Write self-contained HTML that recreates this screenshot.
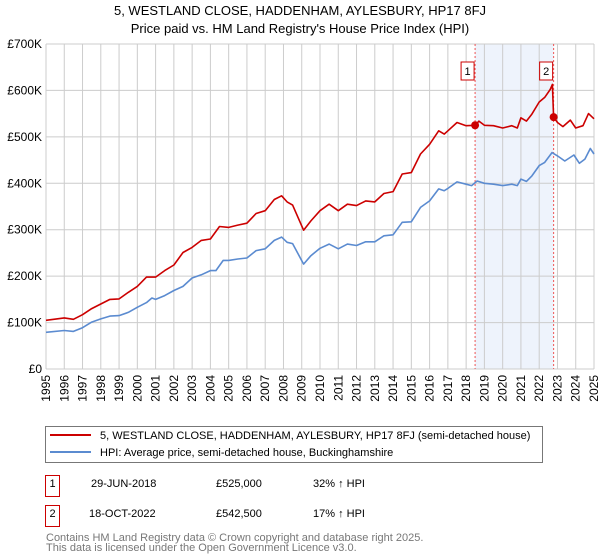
<!DOCTYPE html>
<html><head><meta charset="utf-8"><style>
body{margin:0;background:#fff;font-family:"Liberation Sans","DejaVu Sans",sans-serif;}
#wrap{position:relative;width:600px;height:560px;overflow:hidden;}
</style></head><body>
<div id="wrap">
<svg id="svg" width="600" height="560" xmlns="http://www.w3.org/2000/svg" style="position:absolute;left:0;top:0">
<text x="300" y="15" text-anchor="middle" font-size="13" fill="#000">5, WESTLAND CLOSE, HADDENHAM, AYLESBURY, HP17 8FJ</text>
<text x="300" y="33" text-anchor="middle" font-size="13" fill="#000">Price paid vs. HM Land Registry's House Price Index (HPI)</text>
<g id="grid"></g><g id="marks"></g><g id="axes"></g>
<rect x="45.5" y="426.5" width="497" height="36" fill="#fff" stroke="#777"/>
<line x1="50" y1="435" x2="91" y2="435" stroke="#cc0000" stroke-width="2"/>
<text x="100" y="439" font-size="11">5, WESTLAND CLOSE, HADDENHAM, AYLESBURY, HP17 8FJ (semi-detached house)</text>
<line x1="50" y1="452" x2="91" y2="452" stroke="#5b8bd0" stroke-width="2"/>
<text x="100" y="456" font-size="11">HPI: Average price, semi-detached house, Buckinghamshire</text>
<rect x="45.5" y="475.5" width="14" height="21" fill="#fff" stroke="#cc0000"/>
<text x="52.5" y="487" font-size="11" text-anchor="middle">1</text>
<text x="91" y="487" font-size="11">29-JUN-2018</text>
<text x="216" y="487" font-size="11">£525,000</text>
<text x="313" y="487" font-size="11">32% ↑ HPI</text>
<rect x="45.5" y="505.5" width="14" height="21" fill="#fff" stroke="#cc0000"/>
<text x="52.5" y="517" font-size="11" text-anchor="middle">2</text>
<text x="89" y="517" font-size="11">18-OCT-2022</text>
<text x="216" y="517" font-size="11">£542,500</text>
<text x="313" y="517" font-size="11">17% ↑ HPI</text>
<text x="46" y="541" font-size="11" fill="#777">Contains HM Land Registry data © Crown copyright and database right 2025.</text>
<text x="46" y="551" font-size="11" fill="#777">This data is licensed under the Open Government Licence v3.0.</text>
</svg>
</div>
<script>
const hpiYears=[1995,1996,1996.5,1997,1997.5,1998,1998.5,1999,1999.5,2000,2000.5,2000.8,2001,2001.5,2002,2002.5,2003,2003.5,2004,2004.3,2004.7,2005,2005.5,2006,2006.5,2007,2007.5,2007.9,2008.2,2008.5,2009.1,2009.5,2010,2010.5,2011,2011.5,2012,2012.5,2013,2013.5,2014,2014.5,2015,2015.5,2016,2016.5,2016.8,2017,2017.5,2018,2018.3,2018.6,2019,2019.5,2020,2020.5,2020.8,2021,2021.3,2021.6,2022,2022.3,2022.7,2023,2023.4,2023.9,2024.2,2024.5,2024.8,2025];
const hpiValues=[79,83,81,89,101,108,114,115,122,133,143,153,150,158,169,178,196,203,212,212,234,234,237,239,255,259,277,284,273,270,226,244,260,269,259,269,266,274,274,287,289,316,317,348,362,388,384,389,403,398,395,405,400,398,395,398,395,409,404,416,438,445,466,459,448,461,443,452,475,463];
const propYears=[1995,1996,1996.5,1997,1997.5,1998,1998.5,1999,1999.5,2000,2000.5,2001,2001.5,2002,2002.5,2003,2003.5,2004,2004.5,2005,2005.5,2006,2006.5,2007,2007.5,2007.9,2008.2,2008.5,2009.1,2009.5,2010,2010.5,2011,2011.5,2012,2012.5,2013,2013.5,2014,2014.5,2015,2015.5,2016,2016.5,2016.8,2017,2017.5,2018,2018.49,2018.7,2019,2019.5,2020,2020.5,2020.8,2021,2021.3,2021.6,2022,2022.3,2022.6,2022.72,2022.79,2023,2023.3,2023.7,2024,2024.4,2024.7,2025];
const propValues=[105,110,107,117,130,140,150,151,165,178,198,198,212,224,251,262,277,280,307,305,310,314,335,341,365,373,360,353,299,319,341,355,341,355,352,362,360,378,382,420,423,463,484,513,506,513,531,524,525,534,525,524,519,524,519,541,534,549,575,585,602,613,542.5,531,522,536,519,524,550,539];
const saleYears=[2018.49,2022.79];
const saleValues=[525,542.5];
const saleLabels=["1","2"];
const yTicks=[0,100,200,300,400,500,600,700];
const yTickLabels=["£0","£100K","£200K","£300K","£400K","£500K","£600K","£700K"];
const xTicks=[1995,1996,1997,1998,1999,2000,2001,2002,2003,2004,2005,2006,2007,2008,2009,2010,2011,2012,2013,2014,2015,2016,2017,2018,2019,2020,2021,2022,2023,2024,2025];

const NS="http://www.w3.org/2000/svg";
const X0=46,X1=594,Y0=369,Y1=44;
const xs=y=>X0+(y-1995)/30*(X1-X0);
const ys=v=>Y0-v/700*(Y0-Y1);
function mk(tag,attrs,parent){const e=document.createElementNS(NS,tag);for(const k in attrs)e.setAttribute(k,attrs[k]);parent.appendChild(e);return e;}
const grid=document.getElementById('grid'),marks=document.getElementById('marks'),axes=document.getElementById('axes');
const shade=mk('rect',{x:xs(saleYears[0]),y:Y1,width:xs(saleYears[1])-xs(saleYears[0]),height:Y0-Y1,fill:'#eef3fc'},grid);


yTicks.forEach((t,i)=>{
  const l=mk('line',{x1:X0,x2:X1,y1:ys(t),y2:ys(t),stroke:'#cccccc'},grid);
  
  
  const tx=mk('text',{x:X0-4,y:ys(t)+4,'text-anchor':'end','font-size':'12'},axes);
  tx.textContent=yTickLabels[i];
  
  
});
xTicks.forEach(t=>{
  const l=mk('line',{x1:xs(t),x2:xs(t),y1:Y1,y2:Y0,stroke:'#cccccc'},grid);
  
  
  const tx=mk('text',{x:0,y:0,'text-anchor':'end','font-size':'12',transform:`translate(${xs(t)+4},${Y0+6}) rotate(-90)`},axes);
  tx.textContent=t;
  
  
});
saleYears.forEach((s,i)=>{
  const l=mk('line',{x1:xs(s),x2:xs(s),y1:Y1,y2:Y0,stroke:'#ee5555','stroke-dasharray':'2,2'},grid);
  
  
});
function path(xa,va,col,name){
  const d=xa.map((x,i)=>(i?'L':'M')+xs(x).toFixed(1)+','+ys(va[i]).toFixed(1)).join('');
  const p=mk('path',{d:d,fill:'none',stroke:col,'stroke-width':'1.6','stroke-linejoin':'round'},marks);
  
  
}
path(hpiYears,hpiValues,'#5b8bd0','hpi-line');
path(propYears,propValues,'#cc0000','property-price-line');
saleYears.forEach((s,i)=>{
  const c=mk('circle',{cx:xs(s),cy:ys(saleValues[i]),r:4,fill:'#cc0000'},marks);
  
  
  const r=mk('rect',{x:xs(s)-14,y:62,width:13,height:18,fill:'#fff',stroke:'#cc0000'},marks);
  
  
  const t=mk('text',{x:xs(s)-7.5,y:75,'text-anchor':'middle','font-size':'11'},marks);
  t.textContent=saleLabels[i];
  
  
});
</script>
</body></html>
